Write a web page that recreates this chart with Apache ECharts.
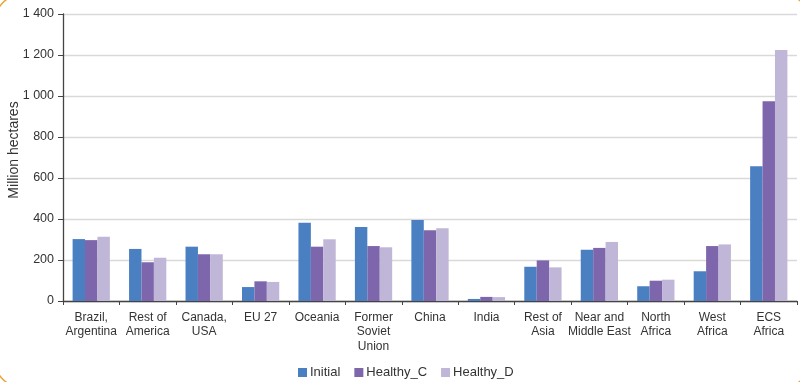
<!DOCTYPE html>
<html>
<head>
<meta charset="utf-8">
<script src="https://cdn.jsdelivr.net/npm/echarts@6/dist/echarts.min.js"></script>
<style>html,body{margin:0;padding:0;background:#fff;}#c{width:800px;height:382px;}</style>
</head>
<body>
<div id="c"></div>
<script>
const categories = ["Brazil,\nArgentina","Rest of\nAmerica","Canada,\nUSA","EU 27","Oceania","Former\nSoviet\nUnion","China","India","Rest of\nAsia","Near and\nMiddle East","North\nAfrica","West\nAfrica","ECS\nAfrica"];
const initial   = [302, 254, 265, 68, 382, 361, 395, 10, 167, 250, 72, 145, 657];
const healthyC  = [297, 189, 228, 96, 265, 268, 345, 20, 198, 259, 99, 268, 974];
const healthyD  = [313, 211, 228, 93, 301, 262, 355, 19, 164, 288, 104, 276, 1224];
const seriesNames = ["Initial", "Healthy_C", "Healthy_D"];
const yTicks = [0, 200, 400, 600, 800, 1000, 1200, 1400];
const yTitle = "Million hectares";

const chart = echarts.init(document.getElementById('c'));
const font = 'Liberation Sans, Arial, sans-serif';
chart.setOption({
  animation: false,
  color: ['#4a7fc2', '#7d66ab', '#c0b6d8'],
  graphic: [{
    type: 'rect', silent: true,
    shape: {x: -6, y: -6, width: 817, height: 394, r: 30},
    style: {fill: 'none', stroke: '#eaa43a', lineWidth: 1.5}
  }, {
    type: 'text', silent: true,
    x: 14, y: 150, rotation: Math.PI / 2,
    style: {text: yTitle, fontFamily: font, fontSize: 14, fill: '#333', align: 'center', verticalAlign: 'middle'}
  }],
  grid: {left: 63, right: 3, top: 14, bottom: 81, containLabel: false, outerBoundsMode: 'none'},
  legend: {
    data: seriesNames, top: 366, left: 298, padding: 0,
    itemWidth: 9, itemHeight: 9, itemGap: 14,
    icon: 'rect',
    textStyle: {fontFamily: font, fontSize: 13, color: '#333', padding: [0,0,0,-2]}
  },
  xAxis: {
    type: 'category', data: categories,
    axisLine: {lineStyle: {color: '#444', width: 1.3}},
    axisTick: {show: true, length: 4, lineStyle: {color: '#444'}},
    axisLabel: {interval: 0, fontFamily: font, fontSize: 12, color: '#333', lineHeight: 14.5, margin: 9}
  },
  yAxis: {
    type: 'value', min: 0, max: yTicks[yTicks.length - 1], interval: 200,
    axisLine: {show: true, lineStyle: {color: '#444', width: 1.3}},
    axisTick: {show: true, length: 5, lineStyle: {color: '#444'}},
    splitLine: {lineStyle: {color: '#d9d9d9', width: 1.3}},
    axisLabel: {fontFamily: font, fontSize: 12.5, color: '#333', margin: 9,
      formatter: v => String(v).replace(/\B(?=(\d{3})+(?!\d))/g, ' ')}
  },
  series: [
    {name: seriesNames[0], type: 'bar', data: initial, barGap: '0%', barCategoryGap: '34%'},
    {name: seriesNames[1], type: 'bar', data: healthyC, barGap: '0%', barCategoryGap: '34%'},
    {name: seriesNames[2], type: 'bar', data: healthyD, barGap: '0%', barCategoryGap: '34%'}
  ]
});
</script>
</body>
</html>
